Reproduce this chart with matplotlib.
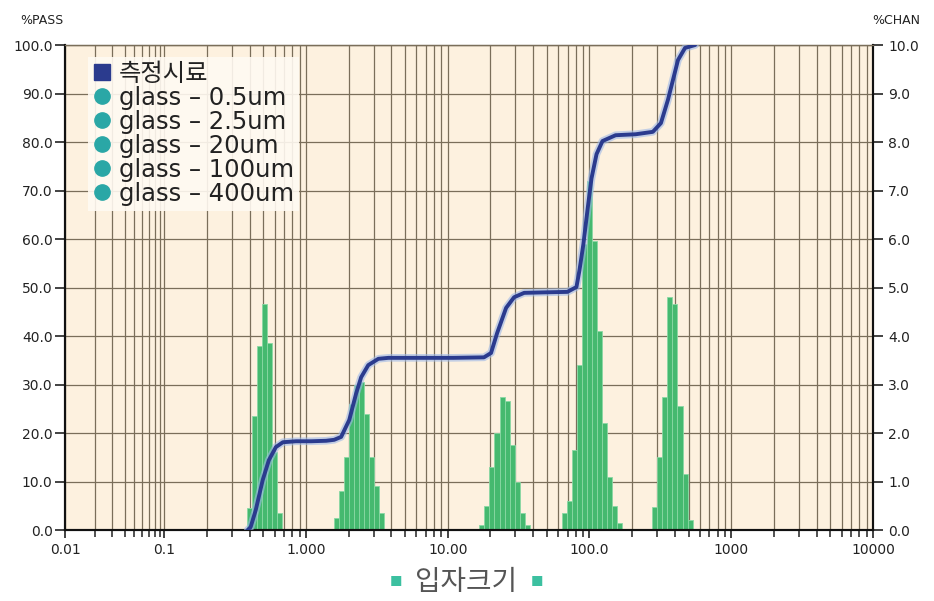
import numpy as np
import matplotlib
matplotlib.use("Agg")
import matplotlib.pyplot as plt
from matplotlib.ticker import FixedLocator, FixedFormatter
from matplotlib.lines import Line2D

plt.rcParams['font.family'] = ['DejaVu Sans', 'Noto Sans CJK KR']

# --- data ---
# %CHAN histogram, one list per glass standard (channel size in um, %)
size_05 = [0.401, 0.435, 0.472, 0.512, 0.556, 0.603, 0.654]
chan_05 = [0.45, 2.35, 3.8, 4.65, 3.85, 1.6, 0.35]

size_25 = [1.633, 1.771, 1.921, 2.085, 2.262, 2.455, 2.664, 2.891, 3.137, 3.404]
chan_25 = [0.25, 0.8, 1.5, 2.6, 3.0, 3.05, 2.4, 1.5, 0.9, 0.35]

size_20 = [17.42, 18.91, 20.51, 22.26, 24.15, 26.21, 28.44, 30.86, 33.49, 36.34]
chan_20 = [0.1, 0.5, 1.3, 2.0, 2.75, 2.65, 1.75, 1.0, 0.35, 0.1]

size_100 = [66.5, 72.2, 78.3, 84.9, 92.2, 100.0, 108.5, 117.7, 127.7, 138.6, 150.4, 163.3]
chan_100 = [0.35, 0.6, 1.65, 3.4, 5.9, 7.2, 5.95, 4.1, 2.2, 1.1, 0.5, 0.15]

size_400 = [289.0, 313.7, 340.4, 369.4, 400.8, 434.9, 471.9, 512.0]
chan_400 = [0.47, 1.5, 2.75, 4.8, 4.65, 2.55, 1.15, 0.2]

# %PASS cumulative curve
pass_size = [0.388, 0.407, 0.442, 0.495, 0.547, 0.613, 0.687, 0.849, 1.085, 1.387,
             1.58, 1.77, 2.02, 2.26, 2.45, 2.75, 3.24, 3.82, 6.54, 11.0,
             18.0, 20.2, 22.3, 25.8, 29.4, 34.6, 48.0, 69.8, 80.9, 84.9,
             90.6, 96.8, 103.3, 112.1, 123.5, 152.8, 211.8, 279.8, 319.0, 357.6,
             388.0, 421.0, 472.0, 556.0]
pass_pct = [0.0, 0.6, 4.1, 10.3, 14.4, 17.1, 18.1, 18.3, 18.3, 18.4,
            18.6, 19.2, 22.7, 28.2, 31.5, 34.0, 35.3, 35.5, 35.5, 35.5,
            35.6, 36.5, 40.6, 45.8, 48.0, 48.9, 49.0, 49.1, 50.1, 53.5,
            59.0, 66.0, 72.5, 77.5, 80.2, 81.4, 81.6, 82.1, 83.9, 88.7,
            92.8, 96.9, 99.4, 100.0]

legend_labels = ['측정시료', 'glass – 0.5um', 'glass – 2.5um', 'glass – 20um',
                 'glass – 100um', 'glass – 400um']
x_ticks = [0.01, 0.1, 1, 10, 100, 1000, 10000]
x_tick_labels = ['0.01', '0.1', '1.000', '10.00', '100.0', '1000', '10000']

BG = '#fdf1df'
GRID = '#7a6e5a'
BAR = '#45b96f'
CURVE = '#2b3b8e'
TEAL = '#2aa7a6'
BAR_W_DEC = 0.0355   # bar width in decades


# the first decade of the original axis is drawn narrower than the others
def fwd(x):
    x = np.asarray(x, dtype=float)
    lg = np.log10(np.clip(x, 1e-12, None))
    return np.where(lg < -1, -1 + 0.7 * (lg + 1), lg)


def inv(y):
    y = np.asarray(y, dtype=float)
    with np.errstate(over='ignore'):
        return np.where(y < -1, 10 ** (-1 + (y + 1) / 0.7), 10 ** y)


fig = plt.figure(figsize=(9.34, 6.01), dpi=100)
ax = fig.add_axes([0.0696, 0.1181, 0.8651, 0.807])
ax2 = ax.twinx()
ax.set_zorder(2)
ax2.set_zorder(1)
ax.patch.set_visible(False)
ax2.patch.set_visible(True)
ax2.patch.set_facecolor(BG)

ax.set_xscale('function', functions=(fwd, inv))
ax2.set_xscale('function', functions=(fwd, inv))
ax.set_xlim(0.01, 10000)
ax.set_ylim(0, 100)
ax2.set_ylim(0, 10)

minor = [d * m for d in x_ticks[:-1] for m in range(2, 10)]
ax.xaxis.set_major_locator(FixedLocator(x_ticks))
ax.xaxis.set_major_formatter(FixedFormatter(x_tick_labels))
ax.xaxis.set_minor_locator(FixedLocator(minor))
ax.xaxis.set_minor_formatter(FixedFormatter([]))

# grid lives on the lower axes so bars cover it
ax2.xaxis.set_visible(True)
ax2.tick_params(axis='x', which='both', length=0, labelbottom=False)
ax2.set_axisbelow(True)
ax2.grid(axis='x', which='both', color=GRID, lw=0.9)
ax2.grid(axis='y', which='major', color=GRID, lw=0.9)

# histogram
for sizes, chans in [(size_05, chan_05), (size_25, chan_25), (size_20, chan_20),
                     (size_100, chan_100), (size_400, chan_400)]:
    s = np.array(sizes)
    left = s * 10 ** (-BAR_W_DEC / 2)
    right = s * 10 ** (BAR_W_DEC / 2)
    ax2.bar(left, chans, width=right - left, align='edge', color=BAR,
            edgecolor='#8ad8a4', linewidth=0.6, zorder=2)

# cumulative curve
ax.plot(pass_size, pass_pct, color='#9db8e8', lw=5.5, alpha=0.6,
        solid_capstyle='round', solid_joinstyle='round', zorder=3)
ax.plot(pass_size, pass_pct, color=CURVE, lw=2.8, solid_capstyle='round',
        solid_joinstyle='round', zorder=4)

# ticks
ax.set_yticks(np.arange(0, 101, 10))
ax.yaxis.set_major_formatter('{x:.1f}')
ax2.set_yticks(np.arange(0, 11, 1))
ax2.yaxis.set_major_formatter('{x:.1f}')
ax.tick_params(axis='y', direction='out', length=7, width=1.2, labelsize=10,
               pad=2, colors='#222222')
ax2.tick_params(axis='y', direction='out', length=7, width=1.2, labelsize=10,
                pad=4, colors='#222222')
ax.tick_params(axis='x', which='major', direction='out', length=6, width=1.2,
               labelsize=10, pad=3, colors='#222222')
ax.tick_params(axis='x', which='minor', direction='out', length=5, width=1.1,
               colors='#222222')

for a in (ax, ax2):
    for side in ('left', 'right', 'bottom'):
        a.spines[side].set_color('#111111')
        a.spines[side].set_linewidth(1.5)
    a.spines['top'].set_color(GRID)
    a.spines['top'].set_linewidth(0.9)

# legend
handles = [Line2D([], [], ls='none', marker='s', ms=12, color=CURVE)]
handles += [Line2D([], [], ls='none', marker='o', ms=11, color=TEAL)
            for _ in legend_labels[1:]]
leg = ax.legend(handles, legend_labels, loc='upper left',
                bbox_to_anchor=(0.028, 0.975), borderaxespad=0, fontsize=17.5,
                labelspacing=0.0, handletextpad=0.3, handlelength=0.8,
                borderpad=0.2, frameon=True, fancybox=False)
leg.get_frame().set_facecolor('#fffaf2')
leg.get_frame().set_edgecolor('none')
leg.get_frame().set_alpha(0.9)
for t in leg.get_texts():
    t.set_color('#222222')

# axis titles
fig.text(20 / 934, 1 - 20 / 601, '%PASS', fontsize=9, color='#222222',
         va='center', ha='left')
fig.text(872 / 934, 1 - 20 / 601, '%CHAN', fontsize=9, color='#222222',
         va='center', ha='left')
fig.text(0.499, 1 - 582 / 601, '입자크기', fontsize=20, color='#555555',
         ha='center', va='center', family=['Noto Sans CJK KR', 'DejaVu Sans'])
fig.text(396 / 934, 1 - 582 / 601, '■', fontsize=9, color='#3cc0a0',
         ha='center', va='center', family=['Noto Sans CJK KR', 'DejaVu Sans'])
fig.text(537 / 934, 1 - 582 / 601, '■', fontsize=9, color='#3cc0a0',
         ha='center', va='center', family=['Noto Sans CJK KR', 'DejaVu Sans'])

fig.savefig('out.png', dpi=100)
